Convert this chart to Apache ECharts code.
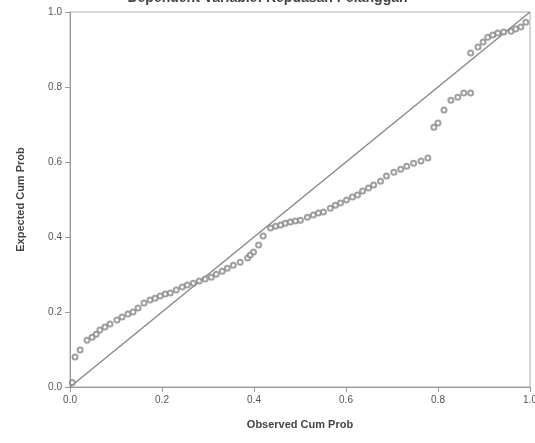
<!DOCTYPE html>
<html>
<head>
<meta charset="utf-8">
<script src="https://cdn.jsdelivr.net/npm/echarts@6/dist/echarts.min.js"></script>
<style>
  html, body { margin: 0; padding: 0; background: #fff; }
  #chart { width: 535px; height: 443px; }
</style>
</head>
<body>
<div id="chart"></div>
<script>
// observed cumulative probability (x) and expected cumulative probability (y)
const observed = [
  0.005, 0.011, 0.022,
  0.037, 0.048, 0.057, 0.065, 0.076, 0.087, 0.102, 0.113, 0.126, 0.137,
  0.148, 0.161, 0.174, 0.185, 0.196, 0.207, 0.218, 0.231, 0.244, 0.255, 0.268,
  0.281, 0.294, 0.307, 0.318, 0.331, 0.342, 0.355, 0.370, 0.386, 0.392, 0.399,
  0.410, 0.420, 0.436, 0.447, 0.458, 0.468, 0.479, 0.490, 0.501, 0.516, 0.529,
  0.540, 0.551, 0.566, 0.577, 0.588, 0.601, 0.614, 0.625, 0.636, 0.649, 0.660,
  0.675, 0.688, 0.704, 0.719, 0.732, 0.747, 0.763, 0.778,
  0.791, 0.800, 0.813, 0.828, 0.843, 0.856, 0.871,
  0.871, 0.887, 0.898, 0.908, 0.919, 0.930, 0.943, 0.959, 0.969, 0.980, 0.991
];
const expected = [
  0.012, 0.080, 0.099,
  0.125, 0.133, 0.141, 0.152, 0.160, 0.168, 0.179, 0.187, 0.195, 0.200,
  0.211, 0.224, 0.232, 0.237, 0.243, 0.248, 0.251, 0.259, 0.267, 0.272, 0.277,
  0.283, 0.288, 0.293, 0.301, 0.309, 0.317, 0.325, 0.333, 0.344, 0.352, 0.360,
  0.379, 0.403, 0.424, 0.429, 0.432, 0.437, 0.440, 0.443, 0.445, 0.453, 0.459,
  0.464, 0.467, 0.477, 0.485, 0.491, 0.499, 0.507, 0.512, 0.523, 0.531, 0.539,
  0.549, 0.563, 0.573, 0.581, 0.589, 0.597, 0.603, 0.611,
  0.693, 0.704, 0.739, 0.765, 0.773, 0.784, 0.784,
  0.891, 0.907, 0.920, 0.933, 0.939, 0.944, 0.947, 0.949, 0.955, 0.960, 0.973
];
const refLine = [0, 1];
const tickLabels = ['0.0', '0.2', '0.4', '0.6', '0.8', '1.0'];

const points = observed.map((v, i) => [v, expected[i]]);

const chart = echarts.init(document.getElementById('chart'));
const axisText = { color: '#555', fontSize: 10, fontFamily: 'Arial, Liberation Sans, sans-serif' };

chart.setOption({
  animation: false,
  title: {
    text: 'Dependent Variable: Kepuasan Pelanggan',
    left: 'center',
    top: -14,
    textStyle: { fontSize: 14, fontWeight: 'bold', color: '#444', fontFamily: 'Arial, Liberation Sans, sans-serif' }
  },
  grid: {
    left: 70, right: 5, top: 12, bottom: 56,
    outerBoundsMode: 'none',
    show: true, borderColor: '#aaa', borderWidth: 1
  },
  xAxis: {
    type: 'value', min: 0, max: 1, interval: 0.2,
    name: 'Observed Cum Prob', nameLocation: 'middle', nameGap: 32,
    nameTextStyle: { fontSize: 11, fontWeight: 'bold', color: '#444', fontFamily: 'Arial, Liberation Sans, sans-serif' },
    axisLine: { lineStyle: { color: '#999' } },
    axisTick: { inside: false, length: 5, lineStyle: { color: '#999' } },
    axisLabel: Object.assign({ margin: 8, formatter: (v) => tickLabels[Math.round(v * 5)] }, axisText),
    splitLine: { show: false }
  },
  yAxis: {
    type: 'value', min: 0, max: 1, interval: 0.2,
    name: 'Expected Cum Prob', nameLocation: 'middle', nameGap: 44,
    nameTextStyle: { fontSize: 11, fontWeight: 'bold', color: '#444', fontFamily: 'Arial, Liberation Sans, sans-serif' },
    axisLine: { show: true, lineStyle: { color: '#999' } },
    axisTick: { show: true, inside: false, length: 5, lineStyle: { color: '#999' } },
    axisLabel: Object.assign({ margin: 8, formatter: (v) => tickLabels[Math.round(v * 5)] }, axisText),
    splitLine: { show: false }
  },
  series: [
    {
      type: 'line',
      data: [[refLine[0], refLine[0]], [refLine[1], refLine[1]]],
      symbol: 'none',
      lineStyle: { color: '#8a8a8a', width: 1.5 },
      z: 1
    },
    {
      type: 'scatter',
      data: points,
      symbol: 'emptyCircle',
      symbolSize: 5,
      itemStyle: { color: '#888', borderColor: '#888', borderWidth: 1 },
      z: 2
    }
  ]
});
</script>
</body>
</html>
